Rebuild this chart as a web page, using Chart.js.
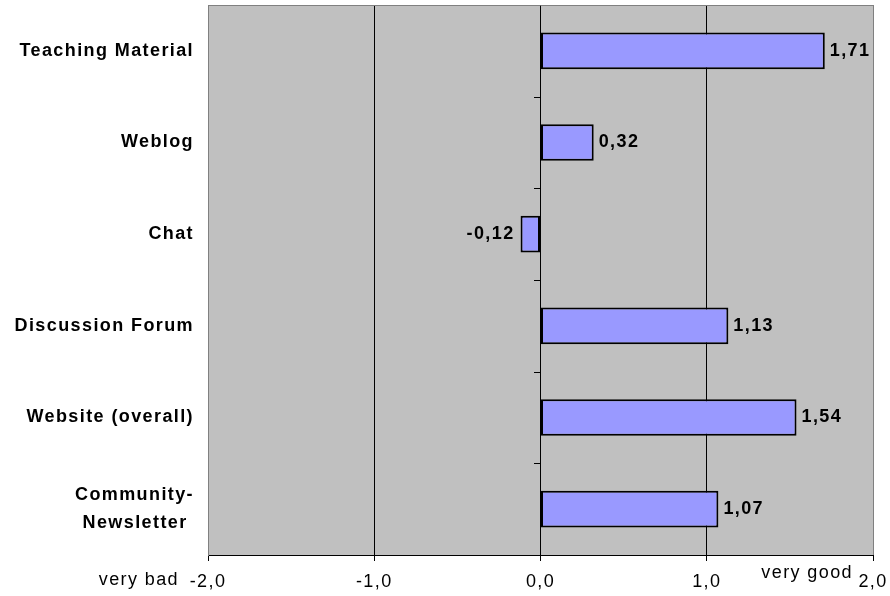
<!DOCTYPE html>
<html>
<head>
<meta charset="utf-8">
<script src="https://cdn.jsdelivr.net/npm/chart.js@4/dist/chart.umd.min.js"></script>
<style>
  html, body { margin: 0; padding: 0; background: #ffffff; }
  #c { display: block; }
</style>
</head>
<body>
<canvas id="c" width="890" height="596"></canvas>
<script>
// Average ratings of the course components (scale -2 = very bad … +2 = very good)
const categories = [
  'Teaching Material',
  'Weblog',
  'Chat',
  'Discussion Forum',
  'Website (overall)',
  ['Community-', 'Newsletter ']
];
const ratings = [1.71, 0.32, -0.12, 1.13, 1.54, 1.07];
const scaleTicks = [-2, -1, 0, 1, 2];
const scaleEnds = ['very bad', 'very good'];

const FONT = "'Liberation Sans', Arial, Helvetica, sans-serif";
const SPACING = '1.4px';

const fmt = v => v.toFixed(1).replace('.', ',');
const fmt2 = v => v.toFixed(2).replace('.', ',');

const framePlugin = {
  id: 'frame',
  beforeLayout(chart) {
    chart.ctx.letterSpacing = SPACING;
  },
  beforeDraw(chart) {
    const { ctx, chartArea: a } = chart;
    ctx.letterSpacing = SPACING;
    ctx.save();
    ctx.fillStyle = '#C0C0C0';
    ctx.fillRect(a.left, a.top, a.right - a.left, a.bottom - a.top);
    ctx.restore();
  },
  beforeDatasetsDraw(chart) {
    const { ctx, chartArea: a, scales: { x, y } } = chart;
    ctx.save();
    // top edge of the plot frame
    ctx.strokeStyle = '#808080';
    ctx.lineWidth = 1;
    ctx.beginPath();
    ctx.moveTo(a.left, Math.round(a.top) + 0.5);
    ctx.lineTo(a.right, Math.round(a.top) + 0.5);
    ctx.stroke();
    // category separators on the zero axis
    const x0 = Math.round(x.getPixelForValue(0));
    ctx.strokeStyle = '#000000';
    ctx.beginPath();
    for (let i = 0; i < categories.length - 1; i++) {
      const yy = Math.round(y.getPixelForValue(i + 0.5)) + 0.5;
      ctx.moveTo(x0 - 7, yy);
      ctx.lineTo(x0, yy);
    }
    ctx.stroke();
    ctx.restore();
  },
  afterDatasetsDraw(chart) {
    const { ctx, scales: { x } } = chart;
    const meta = chart.getDatasetMeta(0);
    ctx.save();
    ctx.fillStyle = '#000000';
    ctx.textBaseline = 'middle';
    ctx.font = `bold 18px ${FONT}`;
    meta.data.forEach((bar, i) => {
      const v = ratings[i];
      if (v >= 0) {
        ctx.textAlign = 'left';
        ctx.fillText(fmt2(v), bar.x + 5, bar.y);
      } else {
        ctx.textAlign = 'right';
        ctx.fillText(fmt2(v), bar.x - 6, bar.y);
      }
    });
    // verbal anchors of the rating scale
    ctx.font = `18px ${FONT}`;
    ctx.textAlign = 'right';
    ctx.fillText(scaleEnds[0], x.getPixelForValue(scaleTicks[0]) - 29, 580);
    ctx.fillText(scaleEnds[1], x.getPixelForValue(scaleTicks[scaleTicks.length - 1]) - 20, 573);
    ctx.restore();
  }
};

new Chart(document.getElementById('c'), {
  type: 'bar',
  data: {
    labels: categories,
    datasets: [{
      data: ratings,
      backgroundColor: '#9999FF',
      borderColor: '#000000',
      borderWidth: 2,
      borderSkipped: false,
      barPercentage: 0.4,
      categoryPercentage: 1.0
    }]
  },
  options: {
    indexAxis: 'y',
    responsive: false,
    animation: false,
    devicePixelRatio: 1,
    layout: { padding: { top: 5, right: 17, bottom: 0, left: 0 } },
    plugins: { legend: { display: false }, tooltip: { enabled: false } },
    scales: {
      x: {
        type: 'linear',
        min: -2,
        max: 2,
        afterBuildTicks: s => { s.ticks = scaleTicks.map(v => ({ value: v })); },
        afterFit: s => { s.height = 41; s.paddingLeft = 0; s.paddingRight = 0; },
        grid: {
          display: true,
          drawTicks: true,
          tickLength: 6,
          tickColor: '#000000',
          lineWidth: 1,
          color: c => (c.tick && Math.abs(c.tick.value) === 2) ? '#808080' : '#000000'
        },
        border: { display: true, color: '#000000', width: 1 },
        ticks: {
          autoSkip: false,
          maxRotation: 0,
          padding: 10,
          color: '#000000',
          font: { family: FONT, size: 18 },
          callback: v => fmt(v)
        }
      },
      y: {
        afterFit: s => { s.width = 208; s.paddingTop = 0; s.paddingBottom = 0; },
        grid: { display: false, drawTicks: false },
        border: { display: true, color: '#808080', width: 1 },
        ticks: {
          padding: 14,
          color: '#000000',
          font: { family: FONT, size: 18, weight: 'bold', lineHeight: 1.55 }
        }
      }
    }
  },
  plugins: [framePlugin]
});
</script>
</body>
</html>
